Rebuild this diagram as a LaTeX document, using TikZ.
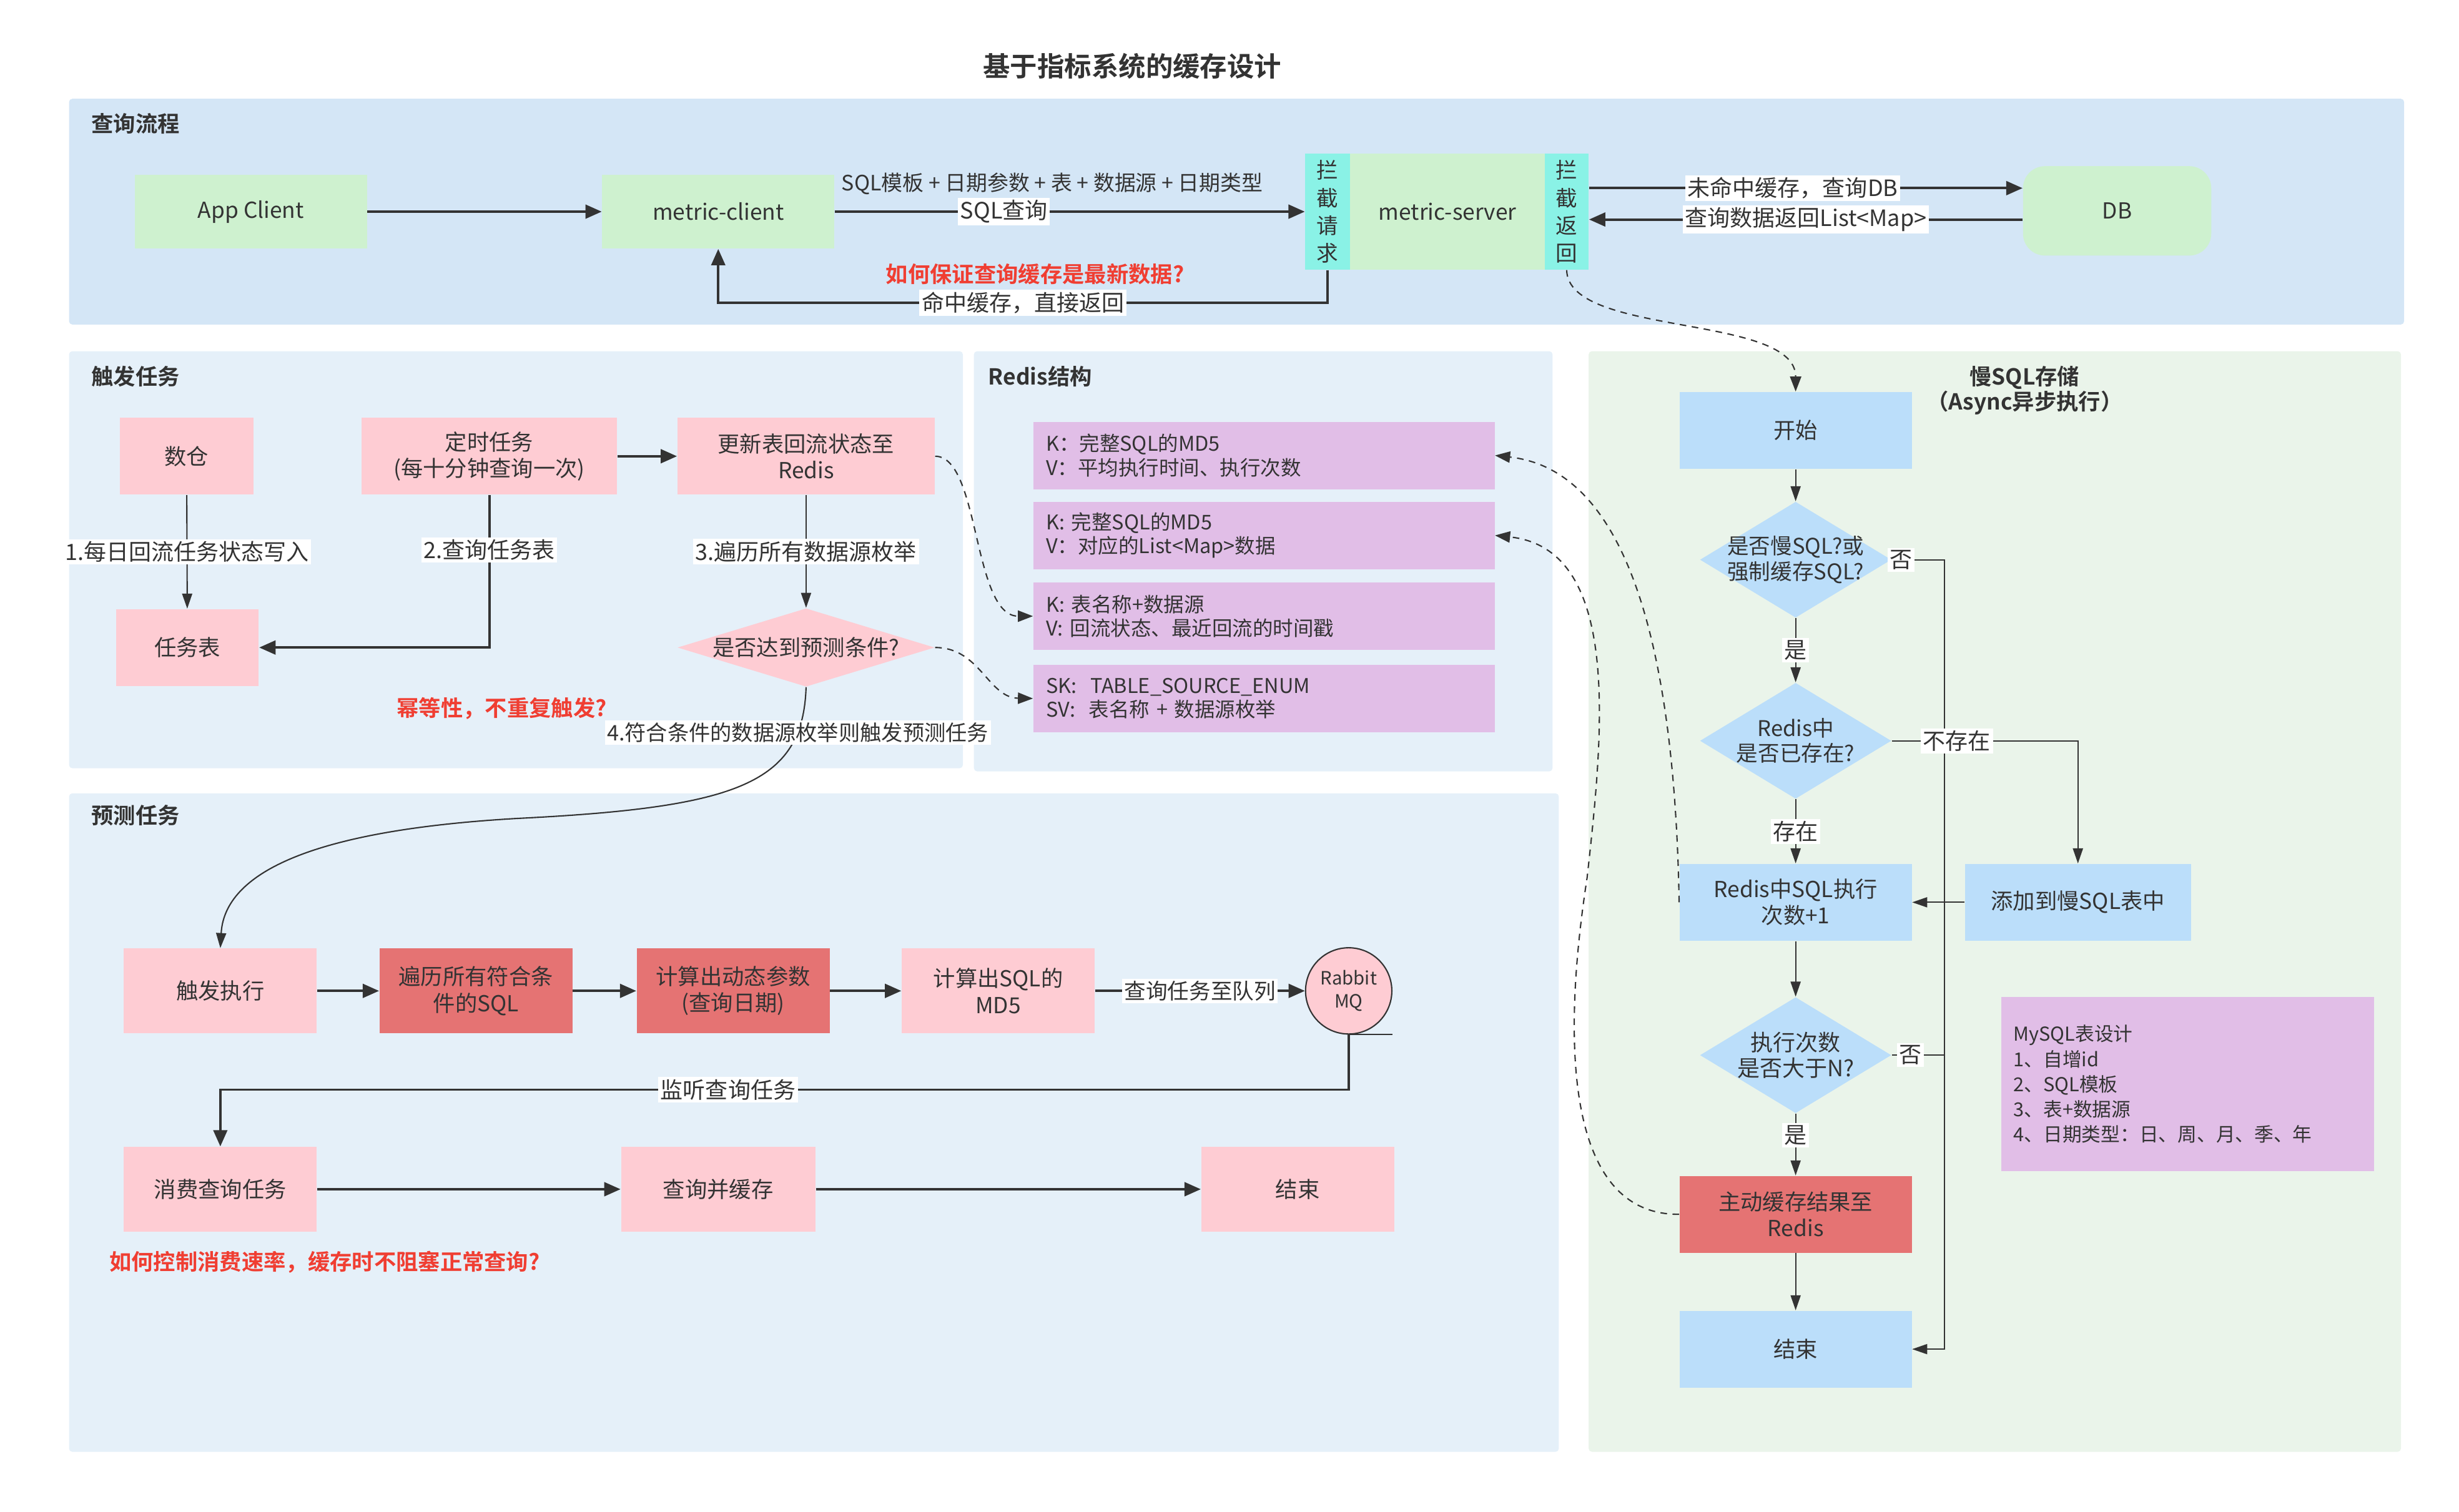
\documentclass[tikz,border=0pt]{standalone}
\usepackage{fontspec}
\setmainfont{Noto Sans CJK SC}[BoldFont={Noto Sans CJK SC Bold}]
\usetikzlibrary{arrows.meta,shapes.geometric}

\definecolor{txt}{HTML}{333333}
\definecolor{pnlblue}{HTML}{D4E6F6}
\definecolor{pnlpale}{HTML}{E5F0F9}
\definecolor{pnlgreen}{HTML}{EAF4EA}
\definecolor{mint}{HTML}{CEF1CF}
\definecolor{aqua}{HTML}{8AF2E6}
\definecolor{pinkbox}{HTML}{FECCD3}
\definecolor{rose}{HTML}{E57373}
\definecolor{lilac}{HTML}{E1BEE7}
\definecolor{sky}{HTML}{BBDEFA}
\definecolor{warnred}{HTML}{F03E32}

\begin{document}
\begin{tikzpicture}[x=0.025cm, y=-0.025cm, font=\fontsize{10}{12}\selectfont, text=txt,
  panel/.style={rounded corners=1.5pt},
  heading/.style={font=\fontsize{12.3}{14}\selectfont\bfseries},
  ptitle/.style={anchor=west, inner sep=0pt, font=\fontsize{10}{11.4}\selectfont\bfseries},
  app/.style={fill=mint, minimum width=3.7cm, minimum height=1.175cm},
  strip/.style={fill=aqua, minimum width=0.71cm, minimum height=1.85cm, inner sep=0pt, align=center, font=\fontsize{9.8}{12.5}\selectfont},
  task/.style={fill=pinkbox, minimum height=1.225cm, align=center, inner sep=1pt},
  hot/.style={fill=rose, minimum width=3.075cm, minimum height=1.35cm, align=center, inner sep=1pt},
  kv/.style={fill=lilac, minimum width=7.35cm, minimum height=1.075cm, text width=6.95cm, inner xsep=0.2cm, align=left, font=\fontsize{9.2}{10.8}\selectfont},
  flow/.style={fill=sky, minimum width=3.7cm, minimum height=1.225cm, align=center, inner sep=1pt},
  decision/.style={diamond, inner sep=0pt, minimum width=3.05cm, minimum height=1.85cm, fill=sky},
  lbl/.style={fill=white, inner sep=1pt, font=\fontsize{10.2}{12}\selectfont},
  warn/.style={text=warnred, font=\fontsize{10}{12}\selectfont\bfseries},
  arr/.style={-{Triangle[length=2.6mm, width=2.2mm]}, draw=txt, line width=1.1pt},
  thinarr/.style={-{Triangle[length=2.4mm, width=1.6mm]}, draw=txt, line width=0.6pt},
  dashlink/.style={-{Triangle[length=2.4mm, width=1.8mm]}, draw=txt, line width=0.6pt, dash pattern=on 3pt off 2.5pt}]
\useasboundingbox (0,0) rectangle (1568,964);

\fill[pnlblue, panel] (44,63) rectangle (1533,207);
\fill[pnlpale, panel] (44,224) rectangle (614,490);
\fill[pnlpale, panel] (621,224) rectangle (990,492);
\fill[pnlpale, panel] (44,506) rectangle (994,926);
\fill[pnlgreen, panel] (1013,224) rectangle (1531,926);

\node[heading] (title) at (722,42) {基于指标系统的缓存设计};
\node[ptitle] (query) at (58,79) {查询流程};
\node[ptitle] (trigger) at (58,240) {触发任务};
\node[ptitle] (redis) at (630,240) {Redis结构};
\node[ptitle] (predict) at (58,520) {预测任务};
\node[ptitle, anchor=center, align=center] (slow) at (1291,249) {慢SQL存储\\（Async异步执行）};

\node[app] (appc) at (160,135) {App Client};
\node[app] (mclient) at (458,135) {metric-client};
\node[app, minimum width=3.1cm, minimum height=1.85cm] (mserver) at (923,135) {metric-server};
\node[strip] (intreq) at (846.5,135) {拦\\截\\请\\求};
\node[strip, minimum width=0.7cm] (intret) at (999,135) {拦\\截\\返\\回};
\node[app, minimum width=3cm, minimum height=1.425cm, rounded corners=0.35cm] (db) at (1350,134.5) {DB};

\draw[arr] (appc) -- (mclient);
\node[font=\fontsize{9.6}{11}\selectfont] (sqlparams) at (671,117) {SQL模板 + 日期参数 + 表 + 数据源 + 日期类型};
\draw[arr] (mclient) -- node[lbl, pos=0.36] {SQL查询} (intreq);
\draw[arr] (intret.east |- 0,120) -- node[lbl, pos=0.47] {未命中缓存，查询DB} (db.west |- 0,120);
\draw[arr] (db.west |- 0,140) -- node[lbl] {查询数据返回List<Map>} (intret.east |- 0,140);
\draw[arr] (intreq.south) -- (intreq.south |- 0,193) -- node[lbl] {命中缓存，直接返回} (mclient.south |- 0,193) -- (mclient.south);
\node[warn] (fresh) at (660,175) {如何保证查询缓存是最新数据?};

\node[task, minimum width=2.125cm] (dw) at (119,291) {数仓};
\node[task, minimum width=4.075cm] (cron) at (312,291) {定时任务\\(每十分钟查询一次)};
\node[task, minimum width=4.1cm] (upd) at (514,291) {更新表回流状态至\\Redis};
\node[task, minimum width=2.275cm] (tasks) at (119.5,413) {任务表};
\node[diamond, fill=pinkbox, inner sep=0pt, minimum width=4.1cm, minimum height=1.25cm,
  label={center:是否达到预测条件?}] (cond) at (514,413) {};

\draw[thinarr] (dw) -- node[lbl] {1.每日回流任务状态写入} (tasks);
\draw[arr] (cron) -- (upd);
\draw[arr] (cron.south) |- node[lbl, pos=0.18] {2.查询任务表} (tasks.east);
\draw[thinarr] (upd) -- node[lbl] {3.遍历所有数据源枚举} (cond);
\node[warn] (idem) at (320,452) {幂等性，不重复触发?};

\node[kv] (r1) at (806,290.5) {K：完整SQL的MD5\\V：平均执行时间、执行次数};
\node[kv] (r2) at (806,341.5) {K: 完整SQL的MD5\\V：对应的List<Map>数据};
\node[kv] (r3) at (806,393) {K: 表名称+数据源\\V: 回流状态、最近回流的时间戳};
\node[kv] (r4) at (806,445.5) {SK:\ \ TABLE\_SOURCE\_ENUM\\SV:\ \ 表名称 + 数据源枚举};

\draw[dashlink] (upd.east) .. controls (625,291) and (620,393) .. (r3.west);
\draw[dashlink] (cond.east) .. controls (625,413) and (630,445) .. (r4.west);

\node[task, minimum width=3.075cm, minimum height=1.35cm] (trig) at (140.5,632) {触发执行};
\node[hot] (trav) at (303.5,632) {遍历所有符合条\\件的SQL};
\node[hot] (dyn) at (467.5,632) {计算出动态参数\\(查询日期)};
\node[task, minimum width=3.075cm, minimum height=1.35cm] (md5) at (636.5,632) {计算出SQL的\\MD5};
\node[circle, fill=pinkbox, draw=txt, line width=0.6pt, minimum size=1.375cm, inner sep=0pt, align=center,
  font=\fontsize{8.3}{10.5}\selectfont] (mq) at (860,632) {Rabbit\\MQ};
\node[task, minimum width=3.075cm, minimum height=1.35cm] (cons) at (140.5,758.5) {消费查询任务};
\node[task, minimum width=3.1cm, minimum height=1.35cm] (qc) at (458,758.5) {查询并缓存};
\node[task, minimum width=3.075cm, minimum height=1.35cm] (end1) at (827.5,758.5) {结束};

\draw[thinarr] (cond.south) .. controls (512,500) and (470,515) .. node[lbl, pos=0.18, font=\fontsize{9.7}{12}\selectfont] {4.符合条件的数据源枚举则触发预测任务} (330,522)
  .. controls (190,530) and (143,560) .. (trig.north);
\draw[arr] (trig) -- (trav);
\draw[arr] (trav) -- (dyn);
\draw[arr] (dyn) -- (md5);
\draw[arr] (md5) -- node[lbl, font=\fontsize{9.8}{12}\selectfont] {查询任务至队列} (mq);
\draw[draw=txt, line width=0.6pt] (mq.south) -- (mq.south -| mq.east);
\draw[arr] (mq.south) -- (mq.south |- 0,695) -- node[lbl, pos=0.55] {监听查询任务} (cons.north |- 0,695) -- (cons.north);
\draw[arr] (cons) -- (qc);
\draw[arr] (qc) -- (end1);
\node[warn] (rate) at (207,805) {如何控制消费速率，缓存时不阻塞正常查询?};

\node[flow] (start) at (1145,274.5) {开始};
\node[decision, label={[align=center, font=\fontsize{9.8}{11.4}\selectfont]center:是否慢SQL?或\\强制缓存SQL?}] (d1) at (1145,357) {};
\node[decision, label={[align=center, font=\fontsize{9.8}{11.4}\selectfont]center:Redis中\\是否已存在?}] (d2) at (1145,472.5) {};
\node[flow] (incr) at (1145,575.5) {Redis中SQL执行\\次数+1};
\node[flow, minimum width=3.6cm] (addslow) at (1325,575.5) {添加到慢SQL表中};
\node[decision, label={[align=center, font=\fontsize{10.2}{11.4}\selectfont]center:执行次数\\是否大于N?}] (d3) at (1145,673) {};
\node[flow, fill=rose] (cache) at (1145,774.5) {主动缓存结果至\\Redis};
\node[flow] (end2) at (1145,860.5) {结束};
\node[fill=lilac, minimum width=5.95cm, minimum height=2.775cm, text width=5.55cm, inner xsep=0.2cm, align=left,
  font=\fontsize{8.7}{11.4}\selectfont] (mysql) at (1395,691.5)
  {MySQL表设计\\1、自增id\\2、SQL模板\\3、表+数据源\\4、日期类型：日、周、月、季、年};

\draw[thinarr] (start) -- (d1);
\draw[thinarr] (d1) -- node[lbl] {是} (d2);
\draw[thinarr] (d1.east) -- node[lbl, pos=0.18] {否} (d1.east -| 1240,0) -- (end2.east -| 1240,0) -- (end2.east);
\draw[thinarr] (d2.east) -- node[lbl, pos=0.35] {不存在} (d2.east -| addslow) -- (addslow);
\draw[thinarr] (d2) -- node[lbl] {存在} (incr);
\draw[thinarr] (addslow) -- (incr);
\draw[thinarr] (incr) -- (d3);
\draw[draw=txt, line width=0.6pt] (d3.east) -- node[lbl, pos=0.35] {否} (d3.east -| 1240,0);
\draw[thinarr] (d3) -- node[lbl, pos=0.35] {是} (cache);
\draw[thinarr] (cache) -- (end2);

\draw[dashlink] (intret.south) .. controls (1000,215) and (1145,200) .. (start.north);
\draw[dashlink] (incr.west) .. controls (1068,420) and (1040,300) .. (r1.east);
\draw[dashlink] (cache.west) .. controls (1000,775) and (995,670) .. (1012,560) .. controls (1022,470) and (1035,350) .. (r2.east);
\end{tikzpicture}
\end{document}
